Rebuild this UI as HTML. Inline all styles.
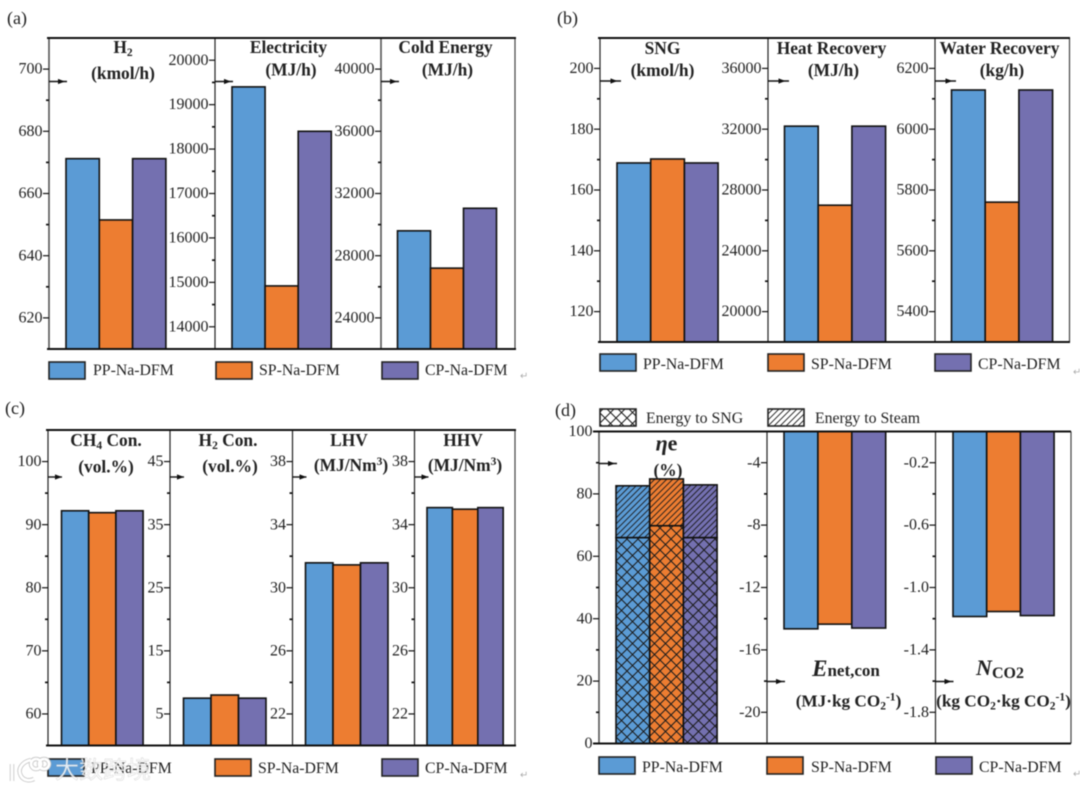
<!DOCTYPE html>
<html lang="en">
<head>
<meta charset="utf-8">
<title>Performance comparison of Na-DFM processes</title>
<style>
html,body{margin:0;padding:0;background:#fff;width:1080px;height:787px;overflow:hidden}
svg{display:block;filter:blur(.45px)}
text{font-family:"Liberation Serif","Noto Serif CJK SC",serif;fill:#222}
.tick{font-size:16px;text-anchor:end}
.leg{font-size:15.8px}
.plabel{font-size:18px}
.title{font-size:17.4px;font-weight:bold;text-anchor:middle}
.wm{font-family:"Liberation Sans","Noto Sans CJK SC",sans-serif;font-size:24px;fill:#fff;fill-opacity:.82;stroke:#999;stroke-opacity:.35;stroke-width:.6}
</style>
</head>
<body>
<svg id="chart" xmlns="http://www.w3.org/2000/svg" width="1080" height="787" viewBox="0 0 1080 787">
  <defs>
    <pattern id="hatch-cross" patternUnits="userSpaceOnUse" width="11" height="11">
      <path d="M0 0L11 11M11 0L0 11M-2 9L2 13M9 -2L13 2M-2 2L2 -2M9 13L13 9" stroke="#1a1a1a" stroke-width="1" fill="none"/>
    </pattern>
    <pattern id="hatch-diag" patternUnits="userSpaceOnUse" width="6" height="6">
      <path d="M-1 1L1 -1M0 6L6 0M5 7L7 5" stroke="#1a1a1a" stroke-width=".9" fill="none"/>
    </pattern>
  </defs>

  <text class="plabel" x="7" y="24">(a)</text>
  <text class="plabel" x="557" y="24">(b)</text>
  <text class="plabel" x="5" y="414">(c)</text>
  <text class="plabel" x="555" y="416">(d)</text>

  <g id="marks"></g>

  <!-- panel a titles -->
  <text class="title" x="123" y="53">H<tspan font-size="11.5" dy="3">2</tspan></text>
  <text class="title" x="123" y="79">(kmol/h)</text>
  <text class="title" x="288.5" y="53">Electricity</text>
  <text class="title" x="291" y="75.5">(MJ/h)</text>
  <text class="title" x="445.5" y="53">Cold Energy</text>
  <text class="title" x="447.5" y="75.5">(MJ/h)</text>

  <!-- panel b titles -->
  <text class="title" x="662.5" y="54">SNG</text>
  <text class="title" x="662.5" y="76">(kmol/h)</text>
  <text class="title" x="831.5" y="54">Heat Recovery</text>
  <text class="title" x="833.5" y="76">(MJ/h)</text>
  <text class="title" x="999.5" y="54">Water Recovery</text>
  <text class="title" x="1002" y="76">(kg/h)</text>

  <!-- panel c titles -->
  <text class="title" x="106" y="446">CH<tspan font-size="11.5" dy="3">4</tspan><tspan dy="-3"> Con.</tspan></text>
  <text class="title" x="106" y="472.5">(vol.%)</text>
  <text class="title" x="228" y="446">H<tspan font-size="11.5" dy="3">2</tspan><tspan dy="-3"> Con.</tspan></text>
  <text class="title" x="230" y="472">(vol.%)</text>
  <text class="title" x="349" y="446">LHV</text>
  <text class="title" x="351" y="471">(MJ/Nm<tspan font-size="11.5" dy="-6">3</tspan><tspan dy="6">)</tspan></text>
  <text class="title" x="463" y="446">HHV</text>
  <text class="title" x="465" y="471">(MJ/Nm<tspan font-size="11.5" dy="-6">3</tspan><tspan dy="6">)</tspan></text>

  <!-- panel d titles -->
  <text class="title" x="666.5" y="450.5" style="font-size:22px"><tspan font-style="italic">η</tspan>e</text>
  <text class="title" x="668" y="476">(%)</text>
  <text class="title" x="846" y="676" style="font-size:17px"><tspan font-style="italic" style="font-size:23px">E</tspan>net,con</text>
  <text class="title" x="848.5" y="706.5" style="font-size:17.2px">(MJ·kg CO<tspan font-size="11.5" dy="3">2</tspan><tspan font-size="11.5" dy="-9">-1</tspan><tspan dy="6">)</tspan></text>
  <text class="title" x="1000" y="675" style="font-size:16px"><tspan font-style="italic" style="font-size:22px">N</tspan><tspan dy="3">CO2</tspan></text>
  <text class="title" x="1003.5" y="706.5" style="font-size:17.2px">(kg CO<tspan font-size="11.5" dy="3">2</tspan><tspan dy="-3">·kg CO</tspan><tspan font-size="11.5" dy="3">2</tspan><tspan font-size="11.5" dy="-9">-1</tspan><tspan dy="6">)</tspan></text>

  <!-- legend text -->
  <text class="leg" x="93" y="375">PP-Na-DFM</text>
  <text class="leg" x="259" y="375">SP-Na-DFM</text>
  <text class="leg" x="425" y="375">CP-Na-DFM</text>
  <text class="leg" x="643" y="369">PP-Na-DFM</text>
  <text class="leg" x="811" y="369">SP-Na-DFM</text>
  <text class="leg" x="978" y="369">CP-Na-DFM</text>
  <text class="leg" x="91" y="773">PP-Na-DFM</text>
  <text class="leg" x="258" y="773">SP-Na-DFM</text>
  <text class="leg" x="425" y="773">CP-Na-DFM</text>
  <text class="leg" x="642" y="772">PP-Na-DFM</text>
  <text class="leg" x="811" y="772">SP-Na-DFM</text>
  <text class="leg" x="979" y="772">CP-Na-DFM</text>
  <text class="leg" x="646" y="423">Energy to SNG</text>
  <text class="leg" x="815" y="423">Energy to Steam</text>

  <!-- paragraph marks -->
  <g style="opacity:.6">
    <text x="520" y="379" style="font-size:10px;fill:#777">↵</text>
    <text x="1073" y="375" style="font-size:10px;fill:#777">↵</text>
    <text x="520" y="778" style="font-size:10px;fill:#777">↵</text>
    <text x="1073" y="777" style="font-size:10px;fill:#777">↵</text>
  </g>

  <!-- watermark -->
  <g>
    <path d="M12 764V781M31 760C22 762 17 769 21 776C24 781 30 781 34 779M36 759a5 5 0 1 0 .1 0M44 759a5 5 0 1 0 .1 0" fill="none" stroke="#c4c4c4" stroke-width="4.4"/>
    <path d="M12 764V781M31 760C22 762 17 769 21 776C24 781 30 781 34 779M36 759a5 5 0 1 0 .1 0M44 759a5 5 0 1 0 .1 0" fill="none" stroke="#fff" stroke-width="2.8"/>
    <text class="wm" x="55" y="778">大数跨境</text>
  </g>
</svg>

<script>
// Shared categories
const categories = ['PP-Na-DFM', 'SP-Na-DFM', 'CP-Na-DFM'];

// Panel (a)
const h2Values = [671.2, 651.5, 671.2];
const h2Ticks = ['620', '640', '660', '680', '700'];
const electricityValues = [19400, 14920, 18400];
const electricityTicks = ['14000', '15000', '16000', '17000', '18000', '19000', '20000'];
const coldEnergyValues = [29600, 27200, 31050];
const coldEnergyTicks = ['24000', '28000', '32000', '36000', '40000'];

// Panel (b)
const sngValues = [168.9, 170.2, 168.9];
const sngTicks = ['120', '140', '160', '180', '200'];
const heatRecoveryValues = [32200, 27000, 32200];
const heatRecoveryTicks = ['20000', '24000', '28000', '32000', '36000'];
const waterRecoveryValues = [6129, 5760, 6129];
const waterRecoveryTicks = ['5400', '5600', '5800', '6000', '6200'];

// Panel (c)
const ch4Values = [92.2, 91.9, 92.2];
const ch4Ticks = ['60', '70', '80', '90', '100'];
const h2ConValues = [7.5, 8.0, 7.5];
const h2ConTicks = ['5', '15', '25', '35', '45'];
const lhvValues = [31.58, 31.45, 31.58];
const lhvTicks = ['22', '26', '30', '34', '38'];
const hhvValues = [35.08, 34.98, 35.08];
const hhvTicks = ['22', '26', '30', '34', '38'];

// Panel (d)
const energyToSngValues = [66, 69.8, 66];
const energyToSteamValues = [16.6, 15, 16.9];
const efficiencyTicks = ['0', '20', '40', '60', '80', '100'];
const enetValues = [-14.65, -14.35, -14.6];
const enetTicks = ['-20', '-16', '-12', '-8', '-4'];
const nco2Values = [-1.186, -1.154, -1.18];
const nco2Ticks = ['-1.8', '-1.4', '-1.0', '-0.6', '-0.2'];

const colors = {'PP-Na-DFM': '#5B9BD5', 'SP-Na-DFM': '#ED7D31', 'CP-Na-DFM': '#7470B0'};
const svgNS = 'http://www.w3.org/2000/svg';
const root = document.getElementById('marks');

function make(tag, attrs, parent) {
  const el = document.createElementNS(svgNS, tag);
  for (const k in attrs) el.setAttribute(k, attrs[k]);
  (parent || root).appendChild(el);
  return el;
}
function line(x1, y1, x2, y2, stroke, w, name) {
  const el = make('line', {x1: x1, y1: y1, x2: x2, y2: y2, stroke: stroke, 'stroke-width': w});
  
  
  return el;
}
function yScale(p, panel) {
  return function (v) {
    return panel.bottom - (v - p.min) / (p.max - p.min) * (panel.bottom - panel.top);
  };
}

function drawAxis(p, panel) {
  const y = yScale(p, panel);
  const step = (parseFloat(p.ticks[1]) - parseFloat(p.ticks[0])) / 2;
  const axis = line(p.axisX, panel.top, p.axisX, panel.bottom, p.gray ? '#555' : '#222', p.gray ? 1.6 : 1.2, p.id + '-axis');
  const first = parseFloat(p.ticks[0]);
  for (let k = Math.ceil((p.min - first) / step - 1e-9); first + k * step <= p.max + 1e-9; k++) {
    const v = first + k * step;
    const major = k % 2 === 0 && k >= 0;
    if (!major && (Math.abs(v - p.min) < 1e-9 || Math.abs(v - p.max) < 1e-9)) continue;
    line(p.axisX - (major ? 6 : 3), y(v), p.axisX, y(v), '#111', major ? 1.2 : 1.7, p.id + (major ? '-major-tick' : '-minor-tick'));
  }
  p.ticks.forEach(function (label) {
    const t = make('text', {'class': 'tick', x: p.axisX - 6.5, y: y(parseFloat(label)) + 4.6});
    t.textContent = label;
    
    
  });
  return axis;
}

function drawBars(p, panel) {
  const y = yScale(p, panel);
  const base = p.hang ? panel.top : panel.bottom;
  categories.forEach(function (cat, i) {
    const v = p.values[i];
    const x = p.barStart + i * p.barWidth;
    const top = Math.min(y(v), base);
    const h = Math.abs(y(v) - base);
    const r = make('rect', {x: x, y: top, width: p.barWidth, height: h, fill: colors[cat], stroke: '#111', 'stroke-width': 1.6});
    
    
  });
}

function drawStack(p, panel) {
  const y = yScale(p, panel);
  categories.forEach(function (cat, i) {
    const x = p.barStart + i * p.barWidth;
    const a = p.lower[i];
    const b = p.upper[i];
    const key = cat.slice(0, 2).toLowerCase();
    const fills = [[panel.bottom, y(a), colors[cat], 'url(#hatch-cross)', 'energy-to-sng'],
                   [y(a), y(a + b), colors[cat], 'url(#hatch-diag)', 'energy-to-steam']];
    fills.forEach(function (f) {
      const top = f[1];
      const h = f[0] - f[1];
      const bg = make('rect', {x: x, y: top, width: p.barWidth, height: h, fill: f[2]});
      
      
      const hatch = make('rect', {x: x, y: top, width: p.barWidth, height: h, fill: f[3], stroke: '#111', 'stroke-width': 1.6});
      
      
    });
  });
}

function arrow(x, y, len, name) {
  line(x, y, x + len, y, '#111', 1.4, name + '-shaft');
  const a = make('path', {d: 'M' + (x + len * .5) + ' ' + (y - 2.6) + 'L' + (x + len * .5 + 7) + ' ' + y + 'L' + (x + len * .5) + ' ' + (y + 2.6) + 'Z', fill: '#111'});
  
  
}

function swatch(x, y, w, h, fill, name) {
  const s = make('rect', {x: x, y: y, width: w, height: h, fill: fill, stroke: '#222', 'stroke-width': 1.6});
  
  
}

const panels = [
  {
    id: 'a', top: 38, bottom: 349, left: 47, right: 516,
    arrowY: 81.5, arrowLen: 18,
    legendY: 362, legendX: [49, 216, 382],
    axes: [
      {id: 'h2', axisX: 49, min: 610, max: 710, ticks: h2Ticks, values: h2Values, barStart: 66, barWidth: 33.3, gray: true},
      {id: 'electricity', axisX: 215, min: 13500, max: 20500, ticks: electricityTicks, values: electricityValues, barStart: 232, barWidth: 33.1},
      {id: 'cold-energy', axisX: 381, min: 22000, max: 42000, ticks: coldEnergyTicks, values: coldEnergyValues, barStart: 397.5, barWidth: 33, gray: true}
    ],
    rightX: 515
  },
  {
    id: 'b', top: 38, bottom: 342, left: 598, right: 1070,
    arrowY: 81, arrowLen: 21,
    legendY: 354, legendX: [600, 768, 935],
    axes: [
      {id: 'sng', axisX: 600, min: 110, max: 210, ticks: sngTicks, values: sngValues, barStart: 617, barWidth: 33.7},
      {id: 'heat-recovery', axisX: 768, min: 18000, max: 38000, ticks: heatRecoveryTicks, values: heatRecoveryValues, barStart: 784.5, barWidth: 33.7},
      {id: 'water-recovery', axisX: 935, min: 5300, max: 6300, ticks: waterRecoveryTicks, values: waterRecoveryValues, barStart: 951.5, barWidth: 33.7}
    ],
    rightX: 1069.5
  },
  {
    id: 'c', top: 430, bottom: 745.5, left: 46, right: 516,
    arrowY: 477, arrowLen: 14,
    legendY: 759, legendX: [48, 215, 382],
    axes: [
      {id: 'ch4', axisX: 48, min: 55, max: 105, ticks: ch4Ticks, values: ch4Values, barStart: 61.5, barWidth: 27.2},
      {id: 'h2-con', axisX: 170, min: 0, max: 50, ticks: h2ConTicks, values: h2ConValues, barStart: 183.5, barWidth: 27.5},
      {id: 'lhv', axisX: 292.5, min: 20, max: 40, ticks: lhvTicks, values: lhvValues, barStart: 305.5, barWidth: 27.5},
      {id: 'hhv', axisX: 414.5, min: 20, max: 40, ticks: hhvTicks, values: hhvValues, barStart: 427, barWidth: 25.4}
    ],
    rightX: 515
  },
  {
    id: 'd', top: 431.5, bottom: 743.5, left: 593, right: 1071,
    legendY: 757, legendX: [599, 767, 936],
    axes: [
      {id: 'efficiency', axisX: 599, min: 0, max: 100, ticks: efficiencyTicks, lower: energyToSngValues, upper: energyToSteamValues, barStart: 616, barWidth: 33.7, gray: true},
      {id: 'enet', axisX: 767, min: -22, max: -2, ticks: enetTicks, values: enetValues, barStart: 784, barWidth: 33.9, hang: true},
      {id: 'nco2', axisX: 935.5, min: -2, max: 0, ticks: nco2Ticks, values: nco2Values, barStart: 953, barWidth: 33.7, hang: true}
    ],
    rightX: 1071
  }
];

panels.forEach(function (panel) {
  panel.axes.forEach(function (p) {
    if (p.values) drawBars(p, panel);
    else drawStack(p, panel);
    drawAxis(p, panel);
  });
  line(panel.rightX, panel.top, panel.rightX, panel.bottom, '#444', 1.2, 'panel-' + panel.id + '-right-border');
  line(panel.left, panel.top, panel.right, panel.top, '#111', 2, 'panel-' + panel.id + '-top-border');
  line(panel.left, panel.bottom, panel.right, panel.bottom, '#111', 2, 'panel-' + panel.id + '-bottom-border');

  if (panel.id !== 'd') {
    panel.axes.forEach(function (p) {
      arrow(p.axisX, panel.arrowY, panel.arrowLen, p.id + '-arrow');
    });
  }
  categories.forEach(function (cat, i) {
    swatch(panel.legendX[i], panel.legendY, 36, 17, colors[cat], 'legend-' + panel.id + '-swatch-' + cat.slice(0, 2).toLowerCase());
  });
});

// Panel (d) arrows sit at different heights
arrow(599, 463.5, 18, 'efficiency-arrow');
arrow(767, 681.5, 18, 'enet-arrow');
arrow(935.5, 681.5, 18, 'nco2-arrow');

// Hatch legend
swatch(600, 409, 36, 17, 'url(#hatch-cross)', 'legend-swatch-energy-to-sng');
swatch(768, 409, 36, 17, 'url(#hatch-diag)', 'legend-swatch-energy-to-steam');
</script>
</body>
</html>
